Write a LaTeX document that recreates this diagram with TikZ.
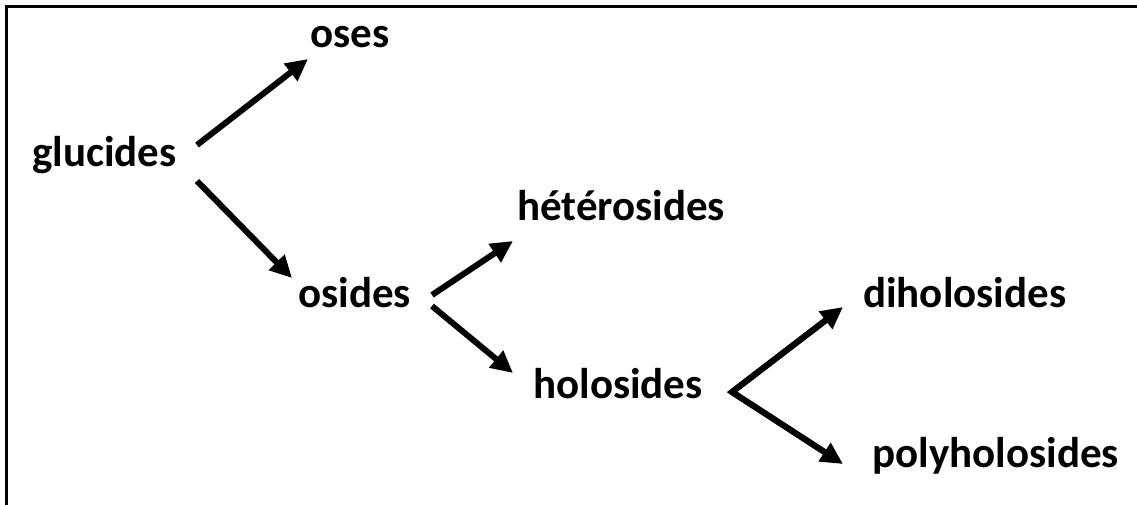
\documentclass[tikz,border=0pt]{standalone}
\usepackage{fontspec}
\setmainfont{Carlito}
\usetikzlibrary{arrows.meta}
\begin{document}
\begin{tikzpicture}[x=1pt,y=-1pt,
  lbl/.style={anchor=base west,inner sep=0pt,font=\fontsize{43}{50}\selectfont\bfseries},
  arr/.style={line width=6pt,-{Triangle[length=22pt,width=21pt]}}]
\useasboundingbox (0,0) rectangle (1137,504);
\fill[white] (0,0) rectangle (1137,504);
\draw[line width=3pt] (6.5,520) -- (6.5,6.5) -- (1150,6.5);
% labels
\node[lbl] (glucides) at (32,166) {glucides};
\node[lbl] (oses) at (310,47) {oses};
\node[lbl] (osides) at (298,307) {osides};
\node[lbl] (hetero) at (517,220) {hétérosides};
\node[lbl] (holo) at (533,398) {holosides};
\node[lbl] (diholo) at (863,307) {diholosides};
\node[lbl] (polyholo) at (872,467) {polyholosides};
% connector ends
\coordinate (g1) at (197,145);
\coordinate (g2) at (197,181);
\coordinate (o1) at (432,295);
\coordinate (o2) at (432,306);
\coordinate (h0) at (732,392);
\coordinate (t-oses) at (308,59);
\coordinate (t-osides) at (292,278);
\coordinate (t-hetero) at (513,241);
\coordinate (t-holo) at (513,373);
\coordinate (t-di) at (843,307);
\coordinate (t-poly) at (843,464);
\draw[arr] (g1) -- (t-oses);
\draw[arr] (g2) -- (t-osides);
\draw[arr] (o1) -- (t-hetero);
\draw[arr] (o2) -- (t-holo);
\draw[line width=6pt,line join=miter,shorten <=20pt,shorten >=20pt] (t-di) -- (h0) -- (t-poly);
\draw[arr] (h0) -- (t-di);
\draw[arr] (h0) -- (t-poly);
\end{tikzpicture}
\end{document}
